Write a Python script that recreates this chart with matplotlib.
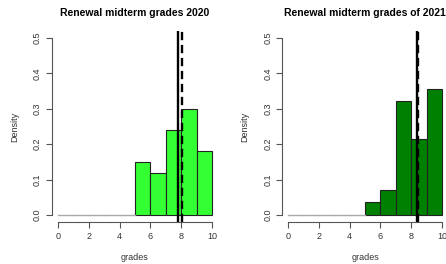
import matplotlib
matplotlib.use("Agg")
import matplotlib.pyplot as plt
import numpy as np

plt.rcParams['font.family'] = ['Liberation Sans', 'DejaVu Sans']

bin_edges = [0, 1, 2, 3, 4, 5, 6, 7, 8, 9, 10]
dens_2020 = [0, 0, 0, 0, 0, 0.15, 0.12, 0.24, 0.30, 0.18]
dens_2021 = [0, 0, 0, 0, 0, 0.036, 0.071, 0.321, 0.214, 0.357]
mean_2020, median_2020 = 7.77, 8.03
mean_2021, median_2021 = 8.40, 8.46
titles = ["Renewal midterm grades 2020", "Renewal midterm grades of 2021"]
colors = ["#33ff33", "#008000"]
xticks = [0, 2, 4, 6, 8, 10]
yticks = [0.0, 0.1, 0.2, 0.3, 0.4, 0.5]

fig = plt.figure(figsize=(4.46, 2.64), dpi=100)
lefts = [0.116, 0.632]
datasets = [(dens_2020, mean_2020, median_2020), (dens_2021, mean_2021, median_2021)]
axcol = "#555555"
for i, (dens, mn, md) in enumerate(datasets):
    ax = fig.add_axes([lefts[i], 0.159, 0.373, 0.7235])
    edges = np.array(bin_edges)
    widths = np.diff(edges)
    for l, w, h in zip(edges[:-1], widths, dens):
        if h > 0:
            ax.bar(l, h, width=w, align='edge', color=colors[i], edgecolor='#222222', linewidth=0.8)
        else:
            ax.plot([l, l + w], [0, 0], color='#aaaaaa', lw=1.0)
    ax.axvline(mn, color='black', lw=1.7)
    ax.axvline(md, color='black', lw=1.7, ls=(0, (3.5, 2)))
    ax.set_xlim(-0.4, 10.4)
    ax.set_ylim(-0.02, 0.52)
    for s in ['top', 'right']:
        ax.spines[s].set_visible(False)
    ax.spines['left'].set_bounds(0, 0.5)
    ax.spines['bottom'].set_bounds(0, 10)
    for s in ['left', 'bottom']:
        ax.spines[s].set_color(axcol)
        ax.spines[s].set_linewidth(0.8)
    ax.set_xticks(xticks)
    ax.set_yticks(yticks)
    ax.set_yticklabels([f"{v:.1f}" for v in yticks], rotation=90, va='center')
    ax.tick_params(colors=axcol, labelcolor='#333333', labelsize=6.5, length=4, width=0.8, pad=3)
    ax.set_xlabel("grades", fontsize=6.5, color='#333333', labelpad=9)
    ax.set_ylabel("Density", fontsize=6.5, color='#333333', labelpad=10)
    ax.set_title(titles[i], fontsize=7.5, fontweight='bold', pad=11)

fig.savefig("out.png", dpi=100)
